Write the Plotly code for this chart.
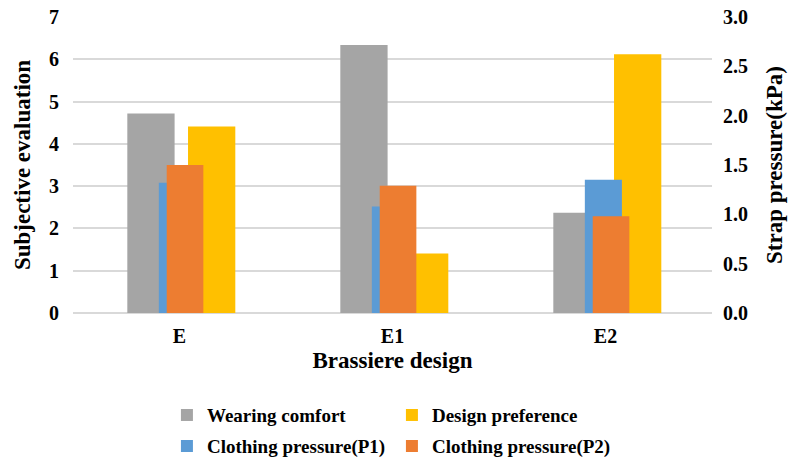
import plotly.graph_objects as go

categories = ["E", "E1", "E2"]
wearing_comfort = [4.72, 6.34, 2.37]
design_preference = [4.41, 1.41, 6.12]
pressure_p1 = [1.32, 1.08, 1.35]
pressure_p2 = [1.50, 1.29, 0.98]

FONT = "Liberation Serif"
CLEAR = "rgba(0,0,0,0)"

fig = go.Figure()
fig.add_trace(go.Bar(x=categories, y=wearing_comfort, name="Wearing comfort",
                     marker=dict(color="#A5A5A5", line=dict(width=0)),
                     offset=-0.245, width=0.222, legend="legend"))
fig.add_trace(go.Bar(x=categories, y=design_preference, name="Design preference",
                     marker=dict(color="#FFC000", line=dict(width=0)),
                     offset=0.04, width=0.222, legend="legend"))
fig.add_trace(go.Bar(x=categories, y=pressure_p1, name="Clothing pressure(P1)",
                     marker=dict(color="#5B9BD5", line=dict(width=0)),
                     offset=-0.097, width=0.174, yaxis="y2", legend="legend2"))
fig.add_trace(go.Bar(x=categories, y=pressure_p2, name="Clothing pressure(P2)",
                     marker=dict(color="#ED7D31", line=dict(width=0)),
                     offset=-0.06, width=0.172, yaxis="y2", legend="legend2"))

legend_common = dict(orientation="h", xanchor="left", yanchor="middle",
                     font=dict(family=FONT, size=19, color="#000000"),
                     entrywidth=180, entrywidthmode="pixels",
                     bgcolor=CLEAR, itemsizing="constant",
                     tracegroupgap=0)

fig.update_layout(
    width=792, height=462,
    margin=dict(l=73, r=80, t=17, b=149, autoexpand=False),
    paper_bgcolor="white", plot_bgcolor="white",
    barmode="overlay",
    font=dict(family=FONT, size=20, color="#000000"),
    xaxis=dict(
        type="category", automargin=False,
        tickfont=dict(family=FONT, size=20, color="#000000"),
        title=dict(text="<b>Brassiere design</b>", font=dict(family=FONT, size=23), standoff=5),
        tickprefix="<b>", ticksuffix="</b>",
        showline=False, ticks="outside", ticklen=5, tickcolor=CLEAR, showgrid=False,
    ),
    yaxis=dict(
        range=[0, 7], dtick=1, tick0=0, automargin=False,
        showgrid=True, gridcolor="#D9D9D9", gridwidth=1.5,
        zeroline=True, zerolinecolor="#D9D9D9", zerolinewidth=1.5,
        tickprefix="<b>", ticksuffix="</b>",
        tickfont=dict(family=FONT, size=20, color="#000000"),
        title=dict(text="<b>Subjective evaluation</b>", font=dict(family=FONT, size=23), standoff=11),
        ticks="outside", ticklen=9, tickcolor=CLEAR, showline=False,
    ),
    yaxis2=dict(
        overlaying="y", side="right", automargin=False,
        range=[0, 3], dtick=0.5, tick0=0, tickformat=".1f",
        showgrid=False, zeroline=False,
        tickprefix="<b>", ticksuffix="</b>",
        tickfont=dict(family=FONT, size=20, color="#000000"),
        title=dict(text="<b>Strap pressure(kPa)</b>", font=dict(family=FONT, size=23), standoff=18),
        ticks="outside", ticklen=6, tickcolor=CLEAR, showline=False,
    ),
    legend=dict(x=0.147, y=-0.345, **legend_common),
    legend2=dict(x=0.147, y=-0.45, **legend_common),
    showlegend=True,
)

for tr in fig.data:
    tr.name = "<b>" + tr.name + "</b>"

fig.write_html("out.html", config={"displayModeBar": False},
               post_script="document.body.style.margin='0';document.body.style.padding='0';")
